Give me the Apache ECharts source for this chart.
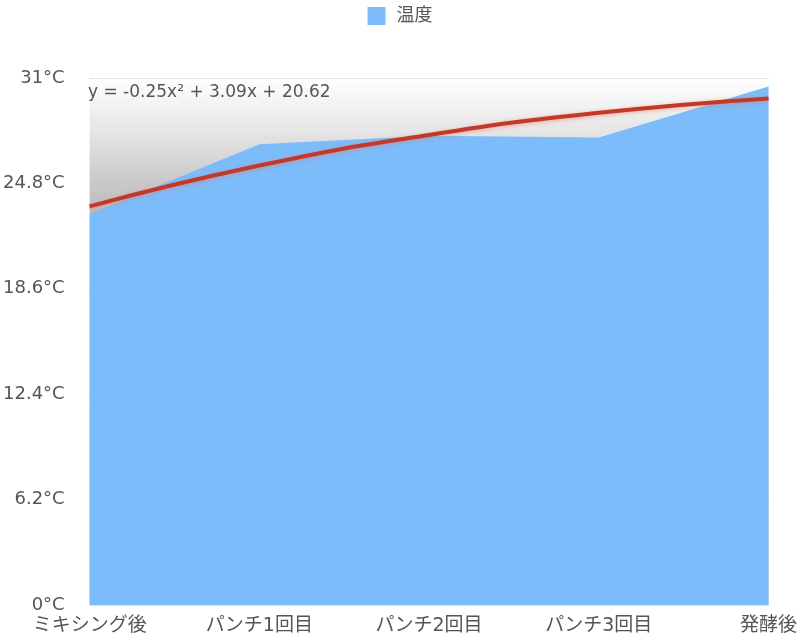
<!DOCTYPE html>
<html>
<head>
<meta charset="utf-8">
<script src="https://cdn.jsdelivr.net/npm/echarts@6/dist/echarts.min.js"></script>
<style>
html,body{margin:0;padding:0;background:#fff;}
#main{width:800px;height:644px;}
</style>
</head>
<body>
<div id="main"></div>
<script>
var categories = ['ミキシング後', 'パンチ1回目', 'パンチ2回目', 'パンチ3回目', '発酵後'];
var temps = [23.0, 27.1, 27.6, 27.5, 30.5];
// trend line at each category
var trend = [23.45, 25.85, 27.65, 28.95, 29.8];
var yTicks = [0, 6.2, 12.4, 18.6, 24.8, 31];
var equation = 'y = -0.25x² + 3.09x + 20.62';

var font = '"DejaVu Sans", "Noto Sans CJK JP", sans-serif';
var myChart = echarts.init(document.getElementById('main'));
var option = {
    animation: false,
    textStyle: { fontFamily: font },
    legend: {
        data: ['温度'],
        top: 2,
        left: 'center',
        icon: 'rect',
        itemWidth: 18,
        itemHeight: 18,
        itemGap: 14,
        textStyle: { fontSize: 18, color: '#555', fontFamily: font, padding: [0, 0, 0, 6] }
    },
    grid: {
        left: 87, right: 31, top: 78, bottom: 39,
        show: true,
        borderWidth: 0,
        backgroundColor: {
            type: 'linear', x: 0, y: 0, x2: 0, y2: 1,
            colorStops: [
                { offset: 0, color: '#ffffff' },
                { offset: 0.1, color: '#e6e6e6' },
                { offset: 0.2, color: '#c8c8c8' },
                { offset: 0.3, color: '#b4b4b4' },
                { offset: 1, color: '#b0b0b0' }
            ]
        }
    },
    xAxis: {
        type: 'category',
        data: categories,
        boundaryGap: false,
        axisLine: { show: false },
        axisTick: { show: false },
        axisLabel: { fontSize: 19, color: '#555', margin: 12, fontFamily: font }
    },
    yAxis: {
        type: 'value',
        min: 0,
        max: 31,
        interval: 6.2,
        axisLine: { show: false },
        axisTick: { show: false },
        splitLine: { lineStyle: { color: '#c8c8c8', type: 'dotted', width: 1 } },
        axisLabel: {
            fontSize: 18, color: '#555', margin: 25, fontFamily: font,
            formatter: function (v) {
                var t = yTicks.filter(function (k) { return Math.abs(k - v) < 1e-6; });
                return (t.length ? t[0] : v) + '°C';
            }
        }
    },
    graphic: [{
        type: 'text',
        left: 88,
        top: 84,
        style: { text: equation, fontSize: 17, fill: '#555', fontFamily: font }
    }],
    series: [
        {
            name: '温度',
            type: 'line',
            data: temps,
            symbol: 'none',
            itemStyle: { color: '#7cbcfb' },
            lineStyle: { width: 0 },
            areaStyle: { color: '#7cbcfb', opacity: 1 },
            z: 2
        },
        {
            name: 'trend',
            type: 'line',
            data: trend,
            smooth: true,
            symbol: 'none',
            lineStyle: {
                color: '#c0392b', width: 4,
                shadowColor: 'rgba(240,120,90,0.6)', shadowBlur: 4, shadowOffsetY: 1
            },
            z: 3
        }
    ]
};
myChart.setOption(option);
</script>
</body>
</html>
